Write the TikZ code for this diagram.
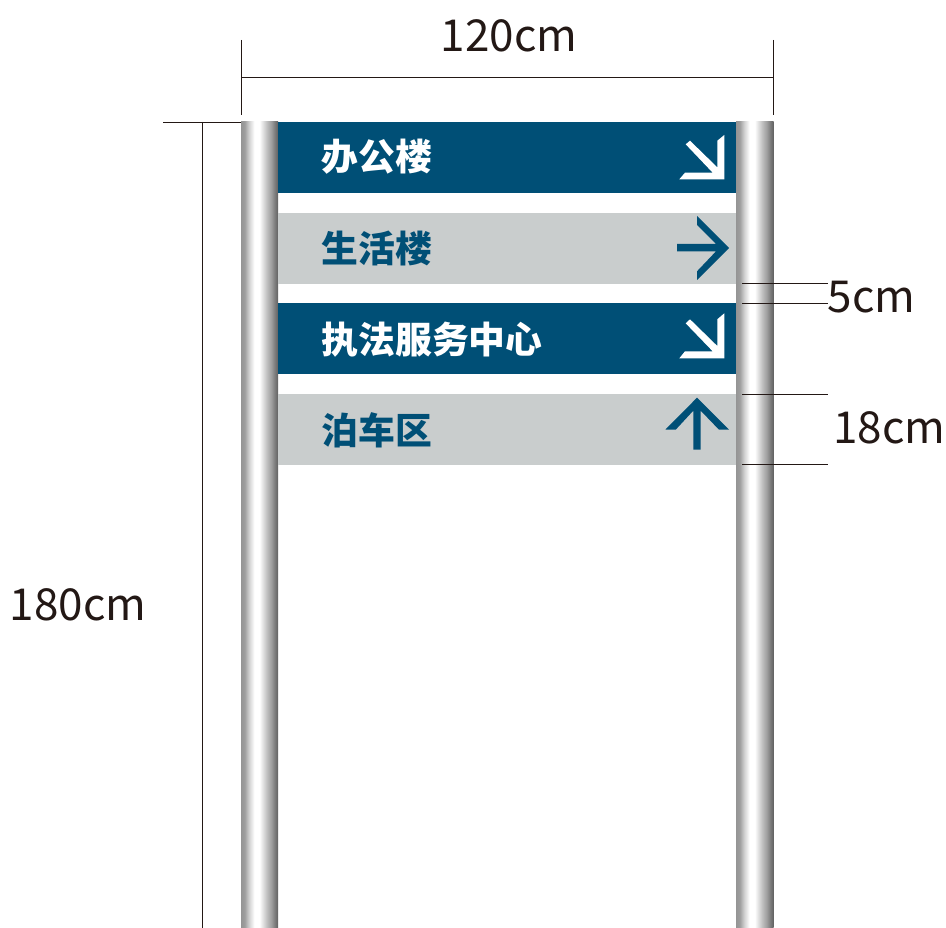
\documentclass[tikz,border=0pt]{standalone}
\usepackage{fontspec}
\setmainfont{Noto Sans CJK SC}
\definecolor{signblue}{HTML}{004F76}
\definecolor{signgrey}{HTML}{C9CDCD}
\definecolor{inkdark}{HTML}{231815}
\pgfdeclarehorizontalshading{poleshade}{100bp}{
 color(0bp)=(black!42); color(25bp)=(black!42);
 color(30bp)=(black!38); color(36bp)=(black!18); color(43bp)=(white); color(50bp)=(white);
 color(60bp)=(black!25); color(66bp)=(black!38); color(71bp)=(black!52); color(75bp)=(black!62); color(100bp)=(black!62)}
\tikzset{
 pole/.style={shading=poleshade,draw=none},
 panel/.style={draw=none,inner sep=0pt,minimum width=458pt,minimum height=71pt,anchor=north west},
 bluepanel/.style={panel,fill=signblue},
 greypanel/.style={panel,fill=signgrey},
 signtext/.style={font=\bfseries\fontsize{36.8}{36.8}\selectfont,inner sep=0pt,anchor=west},
 dimtext/.style={font=\fontsize{44}{44}\selectfont,text=inkdark,inner sep=0pt},
 dimline/.style={draw=inkdark,line width=0.8pt},
}
\begin{document}
\begin{tikzpicture}[x=1pt,y=-1pt]
\useasboundingbox (0,0) rectangle (946,928);
\fill[white] (0,0) rectangle (946,928);
% poles
\path[pole] (241,122) rectangle (278,928);
\path[pole] (736,122) rectangle (773.5,928);
% panels
\node[bluepanel] (p1) at (278,122) {};
\node[greypanel] (p2) at (278,213) {};
\node[bluepanel] (p3) at (278,303) {};
\node[greypanel] (p4) at (278,394) {};
% labels
\node[signtext,text=white] (t1) at (321.5,157) {办公楼};
\node[signtext,text=signblue] (t2) at (321.5,248) {生活楼};
\node[signtext,text=white] (t3) at (321.5,340) {执法服务中心};
\node[signtext,text=signblue] (t4) at (321.5,430) {泊车区};
% arrows
\fill[white] (724.3,135) -- (724.3,179.3) -- (679.3,179.3) -- (685,172.7) -- (712.7,172.7) -- (685.7,144.3) -- (690,140.7) -- (717.3,167.3) -- (717.3,140.7) -- cycle;
\fill[white] (724.3,313.3) -- (724.3,358.3) -- (679.3,358.3) -- (685,351.3) -- (712.7,351.3) -- (685.7,323.3) -- (690,319.3) -- (717.3,346) -- (717.3,319.3) -- cycle;
\fill[signblue] (729,248) -- (697,216) -- (697,225) -- (716,244) -- (677,244) -- (677,251.3) -- (716,251.3) -- (697,271.3) -- (697,280) -- cycle;
\fill[signblue] (697,397.7) -- (729,429.7) -- (719,429.7) -- (700.7,410.7) -- (700.7,449.7) -- (693.3,449.7) -- (693.3,410.7) -- (675.7,429.7) -- (665.3,429.7) -- cycle;
% dimension texts
\node[dimtext] (d120) at (509,35.5) {120cm};
\node[dimtext] (d180) at (78,604.5) {180cm};
\node[dimtext] (d5) at (871.5,297.5) {5cm};
\node[dimtext] (d18) at (889.5,427.5) {18cm};
% dimension coordinates
\coordinate (a1) at (241,40); \coordinate (a2) at (241,115);
\coordinate (b1) at (773,40); \coordinate (b2) at (773,115);
\coordinate (c1) at (241,77); \coordinate (c2) at (773,77);
\coordinate (e1) at (163,122); \coordinate (e2) at (241,122);
\coordinate (f1) at (202,122); \coordinate (f2) at (202,928);
\coordinate (g1) at (742,283); \coordinate (g2) at (828,283);
\coordinate (h1) at (742,303.5); \coordinate (h2) at (828,303.5);
\coordinate (i1) at (742,394.5); \coordinate (i2) at (828,394.5);
\coordinate (j1) at (742,464.5); \coordinate (j2) at (828,464.5);
\draw[dimline] (a1) -- (a2);
\draw[dimline] (b1) -- (b2);
\draw[dimline] (c1) -- (c2);
\draw[dimline] (e1) -- (e2);
\draw[dimline] (f1) -- (f2);
\draw[dimline] (g1) -- (g2);
\draw[dimline] (h1) -- (h2);
\draw[dimline] (i1) -- (i2);
\draw[dimline] (j1) -- (j2);
\end{tikzpicture}
\end{document}
